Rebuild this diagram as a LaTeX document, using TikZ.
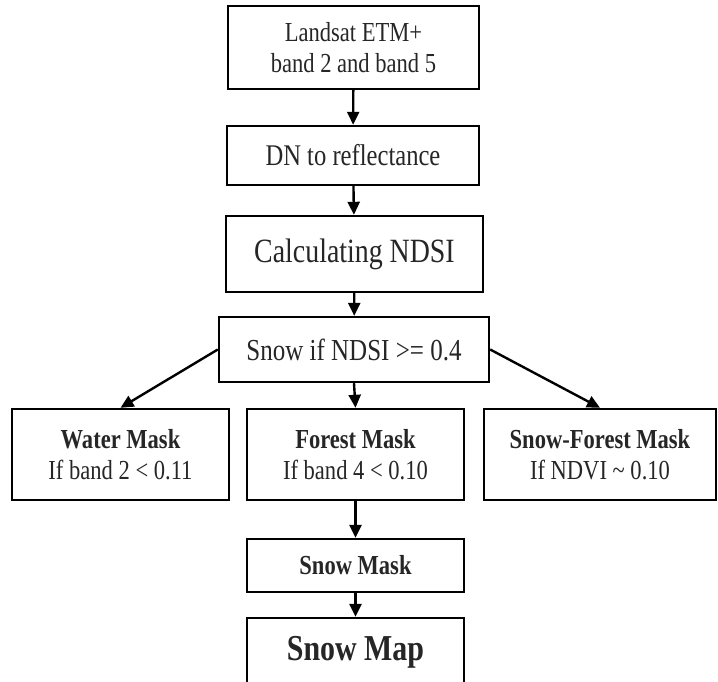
\documentclass[tikz,border=0pt]{standalone}
\usepackage{fontspec}
\setmainfont{Liberation Serif}[FakeStretch=0.82]
\usetikzlibrary{arrows.meta}
\tikzset{
  box/.style={draw=black, line width=2.4pt, fill=white, align=center, inner sep=0pt, text=black!85,
    font=\fontsize{27.5}{31}\selectfont},
  flow/.style={line width=2.4pt, -{Triangle[length=13pt,width=12pt]}}
}
\begin{document}
\begin{tikzpicture}[x=1pt,y=-1pt]
\useasboundingbox (0,0) rectangle (718,681);
% main chain
\node[box, minimum width=251pt, minimum height=83pt] (landsat) at (353.5,47.5)
  {Landsat ETM+\\ band 2 and band 5};
\node[box, minimum width=252pt, minimum height=59pt, font=\fontsize{30}{34}\selectfont] (dn) at (353,155.5)
  {DN to reflectance};
\node[box, minimum width=257pt, minimum height=76pt, font=\fontsize{34}{38}\selectfont] (ndsi) at (354.5,254)
  {Calculating NDSI};
\node[box, minimum width=270pt, minimum height=65pt, font=\fontsize{30.5}{34}\selectfont] (thresh) at (354,349.5)
  {Snow if NDSI >= 0.4};
% masks
\node[box, minimum width=217pt, minimum height=91pt] (water) at (120.5,454.5)
  {\textbf{Water Mask}\\ If band 2 < 0.11};
\node[box, minimum width=217pt, minimum height=91pt] (forest) at (355.5,454.5)
  {\textbf{Forest Mask}\\ If band 4 < 0.10};
\node[box, minimum width=232pt, minimum height=91pt] (snowforest) at (600,454.5)
  {\textbf{Snow-Forest Mask}\\ If NDVI \textasciitilde{} 0.10};
% outputs
\node[box, minimum width=217pt, minimum height=53pt, font=\fontsize{27.5}{31}\selectfont\bfseries] (snowmask) at (355.5,565.5)
  {Snow Mask};
\node[box, minimum width=217pt, minimum height=68pt, font=\fontsize{36.5}{40}\selectfont\bfseries] (snowmap) at (355.5,652)
  {Snow Map};
% connectors
\draw[flow] (landsat) -- (dn);
\draw[flow] (dn) -- (ndsi);
\draw[flow] (ndsi) -- (thresh);
\draw[flow] (thresh.west) -- (water.north);
\draw[flow] (thresh.east) -- (snowforest.north);
\draw[flow] (thresh.south) -- (forest.north);
\draw[flow] (forest) -- (snowmask);
\draw[flow] (snowmask) -- (snowmap);
\end{tikzpicture}
\end{document}
